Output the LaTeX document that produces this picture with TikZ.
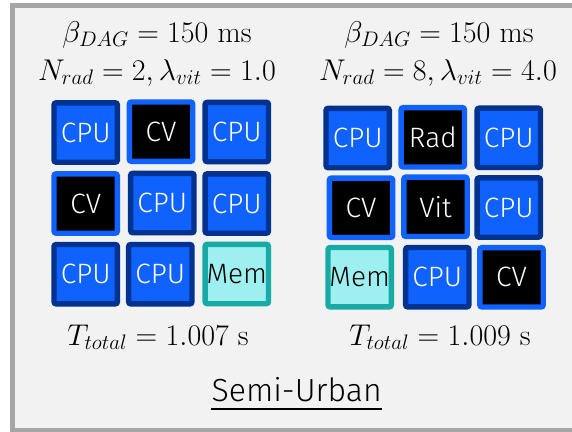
\RequirePackage{fix-cm}
\documentclass[tikz,border=0pt]{standalone}
\usepackage{amsmath}
\usepackage{fontspec}
\setsansfont{Fira Sans Light}
\usepackage{xcolor}
\usepackage{tikz}
\usetikzlibrary{positioning}

\definecolor{panelgray}{HTML}{F2F2F2}
\definecolor{framegray}{HTML}{A6A6A6}
\definecolor{cpufill}{HTML}{0F62FE}
\definecolor{cpuline}{HTML}{00338F}
\definecolor{memfill}{HTML}{9EF0F0}
\definecolor{memline}{HTML}{17ABA6}

\tikzset{
    tile/.style={rounded corners=1.5pt, line width=4pt, inner sep=0pt,
        minimum width=47.5pt, minimum height=44.5pt,
        font=\sffamily\fontsize{21}{21}\selectfont},
    cputile/.style={tile, draw=cpuline, fill=cpufill, text=white},
    cvtile/.style={tile, draw=cpufill, fill=black, text=white},
    memtile/.style={tile, draw=memline, fill=memfill, text=black},
    mathlabel/.style={inner sep=0pt, anchor=base, font=\fontsize{22.5}{22.5}\selectfont},
}

\begin{document}
\begin{tikzpicture}[x=0.75pt, y=-0.75pt]
    \useasboundingbox (0,0) rectangle (572,432);
    % panel with gray frame (open on the right)
    \fill[panelgray] (12.5,5) rectangle (572,430.5);
    \draw[line width=3.75pt, draw=framegray] (572,5) -- (12.5,5) -- (12.5,430.5) -- (572,430.5);

    % left configuration: parameters
    \node[mathlabel] (lbeta) at (157,42) {$\beta_{DAG} = 150\ \mathrm{ms}$};
    \node[mathlabel] (lpar) at (157,80) {$N_{rad} = 2, \lambda_{vit} = 1.0$};
    % left grid of tiles
    \node[cputile] (l11) at (85.7,132.5) {CPU};
    \node[cvtile]  (l12) at (161,131.7) {CV};
    \node[cputile] (l13) at (236.8,132) {CPU};
    \node[cvtile]  (l21) at (85.7,203.5) {CV};
    \node[cputile] (l22) at (162.3,203) {CPU};
    \node[cputile] (l23) at (236.8,203.5) {CPU};
    \node[cputile] (l31) at (85.7,274.2) {CPU};
    \node[cputile] (l32) at (160.3,274.2) {CPU};
    \node[memtile] (l33) at (236.8,274) {Mem};
    \node[mathlabel] (ltotal) at (158,345) {$T_{total} = 1.007\ \mathrm{s}$};

    % right configuration: parameters
    \node[mathlabel] (rbeta) at (439,42) {$\beta_{DAG} = 150\ \mathrm{ms}$};
    \node[mathlabel] (rpar) at (438,80) {$N_{rad} = 8, \lambda_{vit} = 4.0$};
    % right grid of tiles
    \node[cputile] (r11) at (357.7,138) {CPU};
    \node[cvtile]  (r12) at (432.8,137.3) {Rad};
    \node[cputile] (r13) at (508.8,137.8) {CPU};
    \node[cvtile]  (r21) at (361,207.8) {CV};
    \node[cvtile]  (r22) at (435.5,206.8) {Vit};
    \node[cputile] (r23) at (508.8,207.5) {CPU};
    \node[memtile] (r31) at (359.7,277.2) {Mem};
    \node[cputile] (r32) at (437.3,277.2) {CPU};
    \node[cvtile]  (r33) at (511.5,277.3) {CV};
    \node[mathlabel] (rtotal) at (440,345) {$T_{total} = 1.009\ \mathrm{s}$};

    % scenario title, underlined
    \node[inner sep=0pt, anchor=base, font=\sffamily\fontsize{24}{24}\selectfont]
        (scenario) at (296.7,401.7) {Semi-Urban};
    \draw[line width=1.5pt] ([yshift=-5.7pt]scenario.base west) -- ([yshift=-5.7pt]scenario.base east);
\end{tikzpicture}
\end{document}
